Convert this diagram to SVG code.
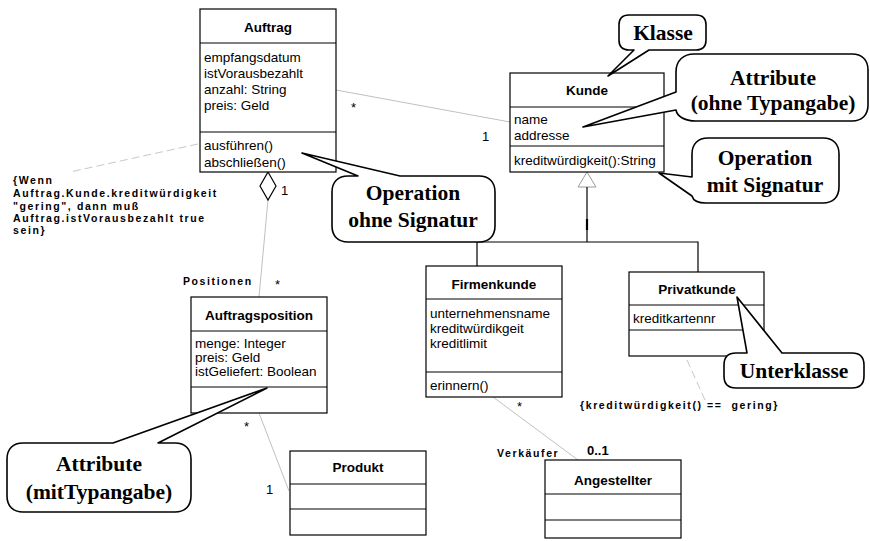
<svg xmlns="http://www.w3.org/2000/svg" width="870" height="541" viewBox="0 0 870 541">
  <style>
    .box { fill: #ffffff; stroke: #000000; stroke-width: 1.2; }
    .div { stroke: #000000; stroke-width: 1.2; }
    .title { font-family: "Liberation Sans", Arial, sans-serif; font-size: 13.5px; font-weight: bold; text-anchor: middle; fill: #000; }
    .txt { font-family: "Liberation Sans", Arial, sans-serif; font-size: 13.5px; fill: #000; }
    .mult { font-family: "Liberation Sans", Arial, sans-serif; font-size: 13px; fill: #000; }
    .small { font-family: "Liberation Sans", Arial, sans-serif; font-size: 10.5px; font-weight: bold; letter-spacing: 1.6px; fill: #000; }
    .assoc { stroke: #c0c0c0; stroke-width: 1; fill: none; }
    .note { stroke: #c8c8c8; stroke-width: 1; fill: none; stroke-dasharray: 8 4; }
    .gen { stroke: #000000; stroke-width: 1.2; fill: none; }
    .callout { fill: #ffffff; stroke: #000000; stroke-width: 1.6; stroke-linejoin: round; }
    .ctext { font-family: "Liberation Serif", "Times New Roman", serif; font-size: 21.5px; font-weight: bold; text-anchor: middle; fill: #000; }
  </style>

  <!-- connectors -->
  <g id="connectors">
    <!-- Auftrag - Kunde -->
    <line class="assoc" x1="336" y1="90" x2="510" y2="122"/>
    <!-- Auftrag aggregation Auftragsposition -->
    <line class="assoc" x1="268" y1="200" x2="259" y2="297"/>
    <polygon points="268,172 276,186 268,200 260,186" fill="#ffffff" stroke="#000" stroke-width="1.2"/>
    <!-- Auftragsposition - Produkt -->
    <line class="assoc" x1="259" y1="413" x2="289" y2="491"/>
    <!-- Firmenkunde - Angestellter -->
    <line class="assoc" x1="493" y1="397" x2="578" y2="460"/>
    <!-- constraint note links -->
    <line class="note" x1="198" y1="144" x2="70" y2="172"/>
    <line class="note" x1="687" y1="360" x2="705" y2="400"/>
    <!-- generalization tree -->
    <polygon points="587,172 596,187 578,187" fill="#ffffff" stroke="#9a9a9a" stroke-width="1"/>
    <line class="gen" x1="587" y1="187" x2="587" y2="242"/>
    <line x1="587" y1="219" x2="587" y2="230" stroke="#000" stroke-width="2.2"/>
    <polyline class="gen" points="477,266 477,242 698,242 698,272"/>
  </g>

  <!-- class Auftrag -->
  <g id="auftrag">
    <rect class="box" x="200" y="9" width="136" height="163"/>
    <line class="div" x1="200" y1="43" x2="336" y2="43"/>
    <line class="div" x1="200" y1="132" x2="336" y2="132"/>
    <text class="title" x="268" y="32">Auftrag</text>
    <text class="txt" x="204" y="62">empfangsdatum</text>
    <text class="txt" x="204" y="78">istVorausbezahlt</text>
    <text class="txt" x="204" y="94">anzahl: String</text>
    <text class="txt" x="204" y="110">preis: Geld</text>
    <text class="txt" x="204" y="150">ausführen()</text>
    <text class="txt" x="204" y="167">abschließen()</text>
  </g>

  <!-- class Kunde -->
  <g id="kunde">
    <rect class="box" x="510" y="73" width="154" height="99"/>
    <line class="div" x1="510" y1="107" x2="664" y2="107"/>
    <line class="div" x1="510" y1="146" x2="664" y2="146"/>
    <text class="title" x="587" y="95">Kunde</text>
    <text class="txt" x="514" y="124">name</text>
    <text class="txt" x="514" y="140">addresse</text>
    <text class="txt" x="514" y="165">kreditwürdigkeit():String</text>
  </g>

  <!-- class Auftragsposition -->
  <g id="auftragsposition">
    <rect class="box" x="191" y="297" width="136" height="116"/>
    <line class="div" x1="191" y1="331" x2="327" y2="331"/>
    <line class="div" x1="191" y1="387" x2="327" y2="387"/>
    <text class="title" x="259" y="320">Auftragsposition</text>
    <text class="txt" x="195" y="348">menge: Integer</text>
    <text class="txt" x="195" y="362">preis: Geld</text>
    <text class="txt" x="195" y="376">istGeliefert: Boolean</text>
  </g>

  <!-- class Firmenkunde -->
  <g id="firmenkunde">
    <rect class="box" x="426" y="266" width="136" height="131"/>
    <line class="div" x1="426" y1="299" x2="562" y2="299"/>
    <line class="div" x1="426" y1="372" x2="562" y2="372"/>
    <text class="title" x="494" y="289">Firmenkunde</text>
    <text class="txt" x="430" y="318">unternehmensname</text>
    <text class="txt" x="430" y="333">kreditwürdikgeit</text>
    <text class="txt" x="430" y="348">kreditlimit</text>
    <text class="txt" x="430" y="390">erinnern()</text>
  </g>

  <!-- class Privatkunde -->
  <g id="privatkunde">
    <rect class="box" x="629" y="272" width="135" height="84"/>
    <line class="div" x1="629" y1="305" x2="764" y2="305"/>
    <line class="div" x1="629" y1="330" x2="764" y2="330"/>
    <text class="title" x="697" y="294">Privatkunde</text>
    <text class="txt" x="633" y="323">kreditkartennr</text>
  </g>

  <!-- class Produkt -->
  <g id="produkt">
    <rect class="box" x="290" y="451" width="136" height="84"/>
    <line class="div" x1="290" y1="484" x2="426" y2="484"/>
    <line class="div" x1="290" y1="509" x2="426" y2="509"/>
    <text class="title" x="358" y="472">Produkt</text>
  </g>

  <!-- class Angestellter -->
  <g id="angestellter">
    <rect class="box" x="545" y="460" width="136" height="78"/>
    <line class="div" x1="545" y1="494" x2="681" y2="494"/>
    <line class="div" x1="545" y1="520" x2="681" y2="520"/>
    <text class="title" x="613" y="485">Angestellter</text>
  </g>

  <!-- multiplicities and role names -->
  <g id="labels">
    <text class="mult" x="351" y="112">*</text>
    <text class="mult" x="482" y="141">1</text>
    <text class="mult" x="281" y="195">1</text>
    <text class="small" x="183" y="285">Positionen</text>
    <text class="mult" x="275" y="289">*</text>
    <text class="mult" x="244" y="431">*</text>
    <text class="mult" x="266" y="494">1</text>
    <text class="mult" x="517" y="411">*</text>
    <text class="small" x="497" y="457">Verkäufer</text>
    <text class="mult" x="587" y="455" font-weight="bold">0..1</text>
  </g>

  <!-- constraints -->
  <g id="constraint-auftrag">
    <text class="small" x="13" y="184">{Wenn</text>
    <text class="small" x="13" y="197">Auftrag.Kunde.kreditwürdigkeit</text>
    <text class="small" x="13" y="210">"gering", dann muß</text>
    <text class="small" x="13" y="222">Auftrag.istVorausbezahlt true</text>
    <text class="small" x="13" y="234">sein}</text>
  </g>
  <g id="constraint-privatkunde">
    <text class="small" x="580" y="409" xml:space="preserve">{kreditwürdigkeit() ==  gering}</text>
  </g>

  <!-- explanatory callouts -->
  <g id="callout-klasse">
    <path class="callout" d="M629,15 H696 Q706,15 706,25 V40 Q706,50 696,50 H649 L608,76 L634,50 H629 Q619,50 619,40 V25 Q619,15 629,15 Z"/>
    <text class="ctext" x="663" y="40">Klasse</text>
  </g>
  <g id="callout-attribute-ohne">
    <path class="callout" d="M694,54 H852 C862,54 868,60 868,70 V105 C868,115 862,121 852,121 H696 C684,121 677,116 676,110 L583,127 L676,92 V72 C676,60 684,54 694,54 Z"/>
    <text class="ctext" x="773" y="85">Attribute</text>
    <text class="ctext" x="773" y="110">(ohne Typangabe)</text>
  </g>
  <g id="callout-operation-mit">
    <path class="callout" d="M708,138 H823 C833,138 839,144 839,154 V187 C839,197 833,203 823,203 H706 C698,203 693,200 692,196 L659,173 L692,177 V154 C692,144 698,138 708,138 Z"/>
    <text class="ctext" x="765" y="165">Operation</text>
    <text class="ctext" x="765" y="192">mit Signatur</text>
  </g>
  <g id="callout-operation-ohne">
    <path class="callout" d="M348,176 H358 L302,153 L400,176 H479 C489,176 495,182 495,192 V226 C495,236 489,242 479,242 H348 C338,242 332,236 332,226 V192 C332,182 338,176 348,176 Z"/>
    <text class="ctext" x="413" y="200">Operation</text>
    <text class="ctext" x="413" y="227">ohne Signatur</text>
  </g>
  <g id="callout-attribute-mit">
    <path class="callout" d="M23,443 H113 L267,388 L158,443 H175 C185,443 191,449 191,459 V496 C191,506 185,512 175,512 H23 C13,512 7,506 7,496 V459 C7,449 13,443 23,443 Z"/>
    <text class="ctext" x="99" y="471">Attribute</text>
    <text class="ctext" x="99" y="499">(mitTypangabe)</text>
  </g>
  <g id="callout-unterklasse">
    <path class="callout" d="M736,353 H747 L737,297 L782,353 H852 C860,353 864,357 864,365 V376 C864,384 860,388 852,388 H736 C728,388 724,384 724,376 V365 C724,357 728,353 736,353 Z"/>
    <text class="ctext" x="794" y="378">Unterklasse</text>
  </g>
</svg>
